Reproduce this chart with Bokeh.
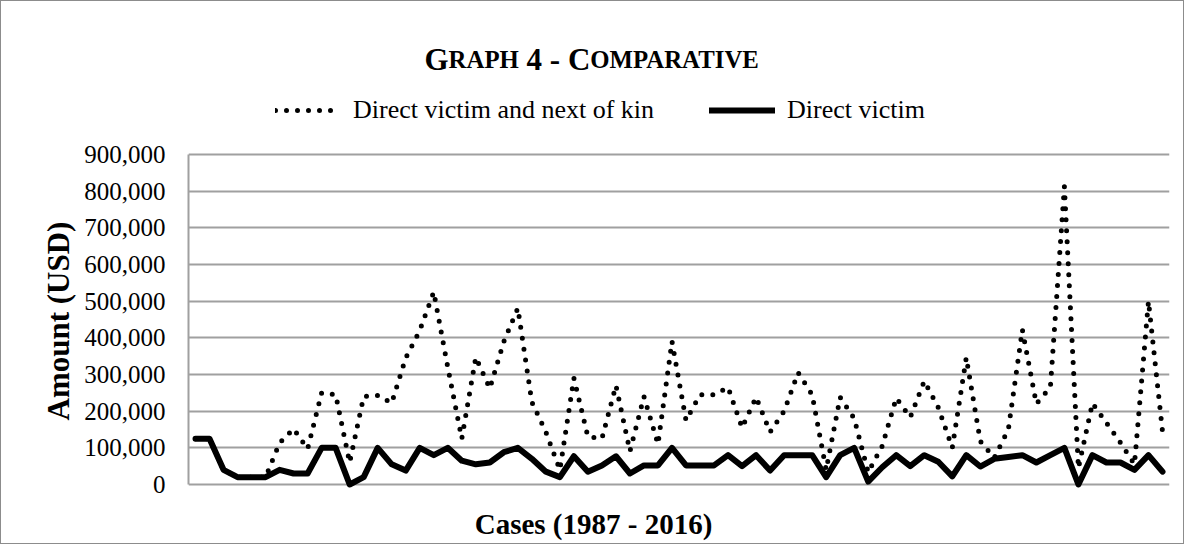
from bokeh.plotting import figure
from bokeh.models import Range1d, NumeralTickFormatter, FixedTicker, Legend, LegendItem, Label, Title
from bokeh.embed import file_html
from bokeh.resources import INLINE

# ---------------- data (USD) ----------------
cases = list(range(1, 71))
direct_and_kin = [125000, 125000, 40000, 20000, 20000, 20000, 113000, 152000, 97000, 250000,
                  245000, 60000, 240000, 243000, 222000, 345000, 420000, 525000, 320000, 125000,
                  347000, 262000, 390000, 481000, 225000, 143000, 40000, 290000, 130000, 125000,
                  270000, 91000, 240000, 110000, 390000, 175000, 245000, 245000, 265000, 155000,
                  238000, 143000, 200000, 305000, 245000, 40000, 238000, 180000, 33000, 105000,
                  236000, 183000, 282000, 210000, 100000, 346000, 118000, 73000, 150000, 422000,
                  220000, 265000, 812000, 45000, 222000, 168000, 114000, 55000, 500000, 145000]
direct = [125000, 125000, 40000, 20000, 20000, 20000, 40000, 30000, 30000, 100000,
          100000, 0, 20000, 100000, 55000, 38000, 100000, 80000, 100000, 65000,
          55000, 60000, 88000, 100000, 70000, 35000, 20000, 77000, 35000, 52000,
          77000, 30000, 52000, 52000, 100000, 52000, 52000, 52000, 80000, 50000,
          80000, 38000, 80000, 80000, 80000, 20000, 80000, 100000, 8000, 47000,
          80000, 50000, 80000, 62000, 22000, 80000, 49000, 70000, 75000, 80000,
          60000, 80000, 100000, 0, 80000, 60000, 60000, 40000, 80000, 35000]
y_ticks = [0, 100000, 200000, 300000, 400000, 500000, 600000, 700000, 800000, 900000]
series_names = ["Direct victim and next of kin", "Direct victim"]
x_title = "Cases (1987 - 2016)"
y_title = "Amount (USD)"

# ---------------- layout (figure pixels) ----------------
W, H = 1184, 544
ML, MR, MT, MB = 187, 16, 20, 0          # frame spans title..bottom, plot area inside it
PLOT_TOP, PLOT_BOTTOM = 153, 483          # where 900,000 and 0 sit
Y_MAX = y_ticks[-1]
px_per_unit = (PLOT_BOTTOM - PLOT_TOP) / Y_MAX
y_lo = -(H - MB - PLOT_BOTTOM) / px_per_unit
y_hi = Y_MAX + (PLOT_TOP - MT) / px_per_unit
SERIF = "Liberation Serif"
GRID = "#a0a0a0"
FB = H - MB                               # frame bottom (figure px)

xs = [c - 1 for c in cases]

p = figure(width=W, height=H, output_backend="svg", toolbar_location=None, title=None,
           x_axis_location=None,
           x_range=Range1d(-0.5, len(cases) - 0.5), y_range=Range1d(y_lo, y_hi),
           min_border_left=ML, min_border_right=MR, min_border_top=MT, min_border_bottom=MB)
p.styles = {"border": "1px solid #8c8c8c"}
p.outline_line_color = None
p.background_fill_color = "white"
p.border_fill_color = "white"

r1 = p.line(xs, direct_and_kin, line_color="black", line_width=5, line_dash="0 11",
            line_cap="round", line_join="round")
r2 = p.line(xs, direct, line_color="black", line_width=6, line_join="round", line_cap="round")

# y axis (real axis, limited to the data span)
p.yaxis.bounds = (0, Y_MAX)
p.yaxis.ticker = FixedTicker(ticks=y_ticks)
p.yaxis.formatter = NumeralTickFormatter(format="0,0")
p.yaxis.axis_line_color = GRID
p.yaxis.axis_line_width = 2
p.yaxis.major_tick_line_color = None
p.yaxis.minor_tick_line_color = None
p.yaxis.major_tick_out = 0
p.yaxis.major_label_standoff = 23
p.yaxis.major_label_text_font = SERIF
p.yaxis.major_label_text_font_size = "25px"
p.yaxis.major_label_text_color = "black"

p.xgrid.visible = False
p.ygrid.ticker = FixedTicker(ticks=y_ticks)
p.ygrid.grid_line_color = GRID
p.ygrid.grid_line_width = 2

# y axis title (rotated), positioned along the plot area
p.add_layout(Title(text=y_title, align="left", offset=FB - 419, standoff=12,
                   text_font=SERIF, text_font_style="bold", text_font_size="31px",
                   text_color="black"), "left")

# legend
legend = Legend(items=[LegendItem(label=series_names[0], renderers=[r1]),
                       LegendItem(label=series_names[1], renderers=[r2])],
                orientation="horizontal", location=(87, FB - 124),
                border_line_color=None, background_fill_alpha=0,
                padding=0, margin=0, spacing=55, label_standoff=12,
                glyph_width=66, glyph_height=20,
                label_text_font=SERIF, label_text_font_size="26px", label_text_color="black")
p.add_layout(legend)

# small-caps title built from pieces (Times bold advance widths)
F = 31.0
S = 0.8
pieces = [("G", 1.0, 0.778), ("RAPH", S, 2.833), ("4 - C", 1.0, 2.055), ("OMPARATIVE", S, 6.944)]
gaps = [0.0, 0.0, 0.25, 0.0]
total = sum(w * s * F for _, s, w in pieces) + 0.25 * F
cx = 600 - 8 - ML
x = cx - total / 2
base_y = FB - 58
for (txt, s, w), g in zip(pieces, gaps):
    x += g * F
    p.add_layout(Label(x=x, y=base_y, x_units="screen", y_units="screen", text=txt,
                       text_font=SERIF, text_font_style="bold", text_font_size=f"{F * s:.1f}px",
                       text_color="black", text_align="left", text_baseline="alphabetic"))
    x += w * s * F

# x axis title
p.add_layout(Label(x=cx, y=FB - (530 - 8), x_units="screen", y_units="screen", text=x_title,
                   text_font=SERIF, text_font_style="bold", text_font_size="29px",
                   text_color="black", text_align="center", text_baseline="middle"))

open("out.html", "w").write(file_html(p, INLINE))
